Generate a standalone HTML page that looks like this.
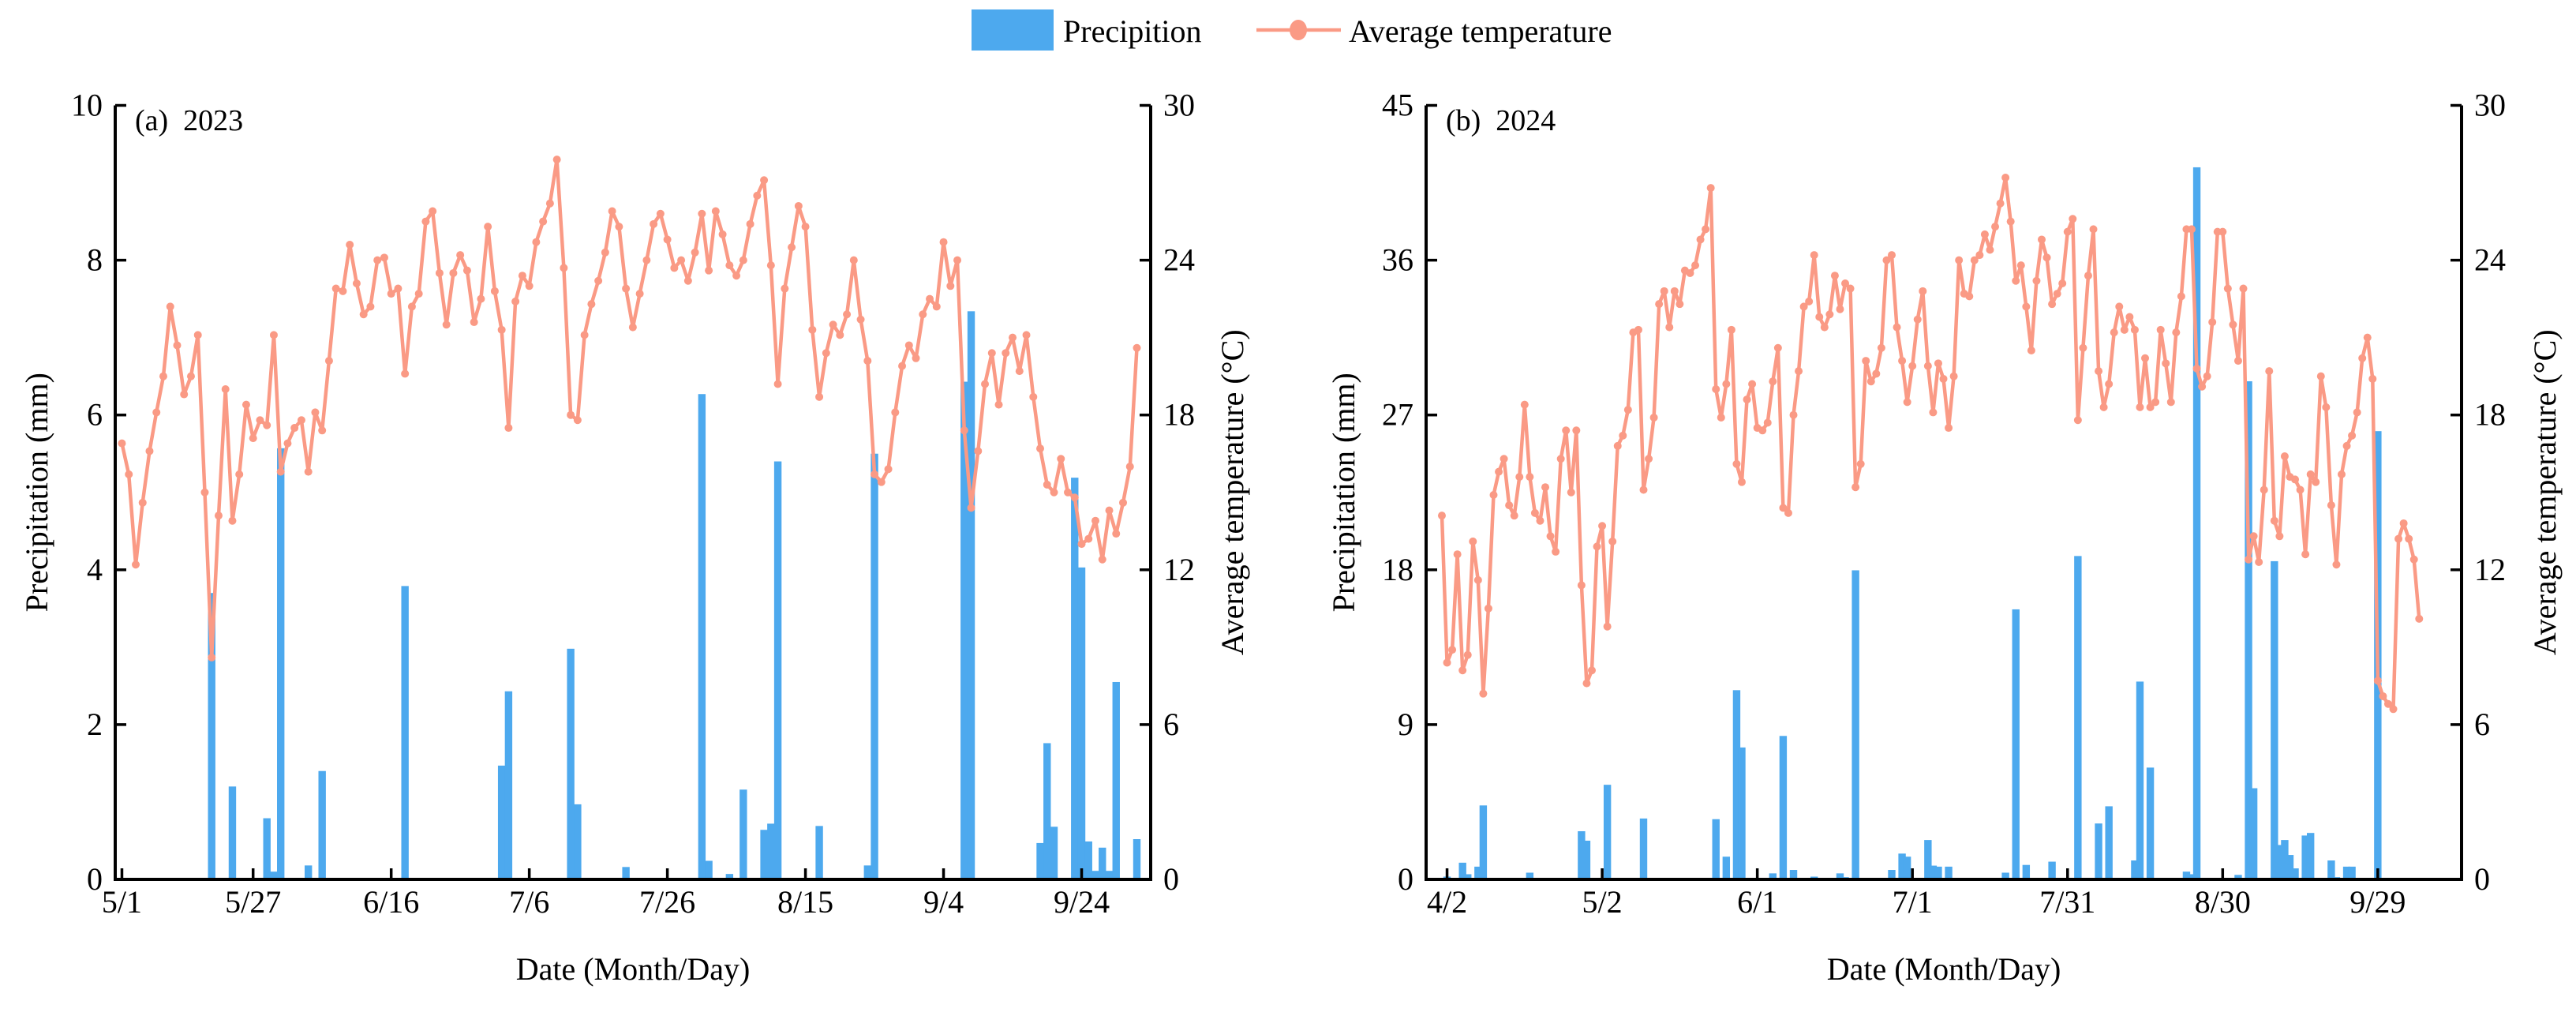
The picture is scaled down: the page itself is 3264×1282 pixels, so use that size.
<!DOCTYPE html>
<html><head><meta charset="utf-8"><style>
html,body{margin:0;padding:0;background:#fff;}
svg text{font-family:"Liberation Serif","DejaVu Serif",serif;}
</style></head><body>
<svg id="fig" width="3264" height="1277" viewBox="0 0 3264 1277" xmlns="http://www.w3.org/2000/svg" font-family="Liberation Serif, serif">
<g>
<rect x="1231" y="12" width="104" height="52" fill="#4DA9EE"/>
<text x="1347" y="53" font-size="40" font-family="Liberation Serif, serif">Precipition</text>
<line x1="1592" y1="38" x2="1699" y2="38" stroke="#FA9A85" stroke-width="4.5"/>
<ellipse cx="1645" cy="38" rx="11" ry="13" fill="#FA9A85"/>
<text x="1709" y="53" font-size="40" font-family="Liberation Serif, serif">Average temperature</text>
</g>
</svg>
<script>
// ---- 2023 data ----
const temps23=[16.9,15.7,12.2,14.6,16.6,18.1,19.5,22.2,20.7,18.8,
19.5,21.1,15.0,8.6,14.1,19.0,13.9,15.7,18.4,17.1,
17.8,17.6,21.1,15.8,16.9,17.5,17.8,15.8,18.1,17.4,
20.1,22.9,22.8,24.6,23.1,21.9,22.2,24.0,24.1,22.7,
22.9,19.6,22.2,22.7,25.5,25.9,23.5,21.5,23.5,24.2,
23.6,21.6,22.5,25.3,22.8,21.3,17.5,22.4,23.4,23.0,
24.7,25.5,26.2,27.9,23.7,18.0,17.8,21.1,22.3,23.2,
24.3,25.9,25.3,22.9,21.4,22.7,24.0,25.4,25.8,24.8,
23.7,24.0,23.2,24.3,25.8,23.6,25.9,25.0,23.8,23.4,
24.0,25.4,26.5,27.1,23.8,19.2,22.9,24.5,26.1,25.3,
21.3,18.7,20.4,21.5,21.1,21.9,24.0,21.7,20.1,15.7,
15.4,15.9,18.1,19.9,20.7,20.2,21.9,22.5,22.2,24.7,
23.0,24.0,17.4,14.4,16.6,19.2,20.4,18.4,20.4,21.0,
19.7,21.1,18.7,16.7,15.3,15.0,16.3,15.0,14.8,13.0,
13.2,13.9,12.4,14.3,13.4,14.6,16.0,20.6];
const precipDays23=[13,16,21,22,23,27,29,41,55,56,65,66,73,84,85,88,90,93,94,95,101,108,109,122,123,133,134,135,138,139,140,141,142,143,144,147];
const precipVals23=[3.7,1.2,0.79,0.1,5.57,0.18,1.4,3.79,1.47,2.43,2.98,0.97,0.16,6.27,0.24,0.07,1.16,0.64,0.72,5.4,0.69,0.18,5.5,6.43,7.34,0.47,1.76,0.68,5.19,4.03,0.49,0.11,0.41,0.11,2.55,0.52];
const tickDays23=[0,19,39,59,79,99,119,139];
const tickLabels23=["5/1","5/27","6/16","7/6","7/26","8/15","9/4","9/24"];
const leftTicks23=[0,2,4,6,8,10];
const rightTicks23=[0,6,12,18,24,30];
// ---- 2024 data ----
const temps24=[14.1,8.4,8.9,12.6,8.1,8.7,13.1,11.6,7.2,10.5,
14.9,15.8,16.3,14.5,14.1,15.6,18.4,15.6,14.2,13.9,
15.2,13.3,12.7,16.3,17.4,15.0,17.4,11.4,7.6,8.1,
12.9,13.7,9.8,13.1,16.8,17.2,18.2,21.2,21.3,15.1,
16.3,17.9,22.3,22.8,21.4,22.8,22.3,23.6,23.5,23.8,
24.8,25.2,26.8,19.0,17.9,19.2,21.3,16.1,15.4,18.6,
19.2,17.5,17.4,17.7,19.3,20.6,14.4,14.2,18.0,19.7,
22.2,22.4,24.2,21.8,21.4,21.9,23.4,22.1,23.1,22.9,
15.2,16.1,20.1,19.3,19.6,20.6,24.0,24.2,21.4,20.1,
18.5,19.9,21.7,22.8,19.9,18.1,20.0,19.4,17.5,19.5,
24.0,22.7,22.6,24.0,24.2,25.0,24.4,25.3,26.2,27.2,
25.5,23.2,23.8,22.2,20.5,23.2,24.8,24.1,22.3,22.7,
23.1,25.1,25.6,17.8,20.6,23.4,25.2,19.7,18.3,19.2,
21.2,22.2,21.3,21.8,21.3,18.3,20.2,18.3,18.5,21.3,
20.0,18.5,21.2,22.6,25.2,25.2,19.8,19.1,19.5,21.6,
25.1,25.1,22.9,21.5,20.1,22.9,12.4,13.3,12.3,15.1,
19.7,13.9,13.3,16.4,15.6,15.5,15.1,12.6,15.7,15.4,
19.5,18.3,14.5,12.2,15.7,16.8,17.2,18.1,20.2,21.0,
19.4,7.7,7.1,6.8,6.6,13.2,13.8,13.2,12.4,10.1];
const precipDays24=[1,4,5,7,8,17,27,28,32,39,53,55,57,58,64,66,68,72,77,78,80,87,89,90,94,95,96,98,109,111,113,118,123,127,129,134,135,137,144,145,146,154,156,157,161,162,163,164,165,167,168,172,173,175,176,181];
const precipVals24=[0.16,0.97,0.3,0.74,4.3,0.39,2.8,2.25,5.5,3.54,3.5,1.32,11.0,7.67,0.35,8.34,0.55,0.16,0.35,0.13,17.97,0.55,1.5,1.32,2.29,0.8,0.74,0.74,0.39,15.7,0.84,1.03,18.8,3.25,4.25,1.1,11.5,6.5,0.45,0.3,41.4,0.26,28.96,5.3,18.5,2.0,2.29,1.42,0.64,2.55,2.7,1.1,0.13,0.74,0.74,26.06];
const tickDays24=[1,31,61,91,121,151,181];
const tickLabels24=["4/2","5/2","6/1","7/1","7/31","8/30","9/29"];
const leftTicks24=[0,9,18,27,36,45];
const rightTicks24=[0,6,12,18,24,30];

const NS="http://www.w3.org/2000/svg";
const FONT="Liberation Serif, serif";
const svg=document.getElementById('fig');
function mk(tag,attrs,parent){const e=document.createElementNS(NS,tag);for(const k in attrs)e.setAttribute(k,attrs[k]);if(tag==='text')e.setAttribute('font-family',FONT);(parent||svg).appendChild(e);return e;}

function panel(o){
  const g=mk('g',{});
  
  
  const top=133.5,bot=1114,L=o.x0,R=o.x1;
  const xs=d=>L+(d-o.d0)/(o.d1-o.d0)*(R-L);
  const yl=v=>bot-v/o.lmax*(bot-top);
  const yr=v=>bot-v/o.rmax*(bot-top);
  o.pd.forEach((d,i)=>{
    const b=mk('rect',{x:xs(d)-4.7,y:yl(o.pv[i]),width:9.4,height:bot-yl(o.pv[i]),fill:'#4DA9EE'},g);
    
    
  });
  const pts=o.t.map((v,i)=>xs(i).toFixed(1)+','+yr(v).toFixed(1)).join(' ');
  const pl=mk('polyline',{points:pts,fill:'none',stroke:'#FA9A85','stroke-width':4.5,'stroke-linejoin':'round'},g);
  
  
  o.t.forEach((v,i)=>{
    const c=mk('circle',{cx:xs(i),cy:yr(v),r:5,fill:'#FA9A85'},g);
    
    
  });
  const ax=mk('path',{d:`M${L},${top} V${bot} H${R} V${top}`,fill:'none',stroke:'#000','stroke-width':4},g);
  
  
  o.lt.forEach(v=>{
    mk('line',{x1:L,x2:L+14,y1:yl(v),y2:yl(v),stroke:'#000','stroke-width':3.5},g);
    const t=mk('text',{x:L-16,y:yl(v)+13,'font-size':40,'text-anchor':'end'},g);
    t.textContent=v;
    
    
  });
  o.rt.forEach(v=>{
    mk('line',{x1:R-14,x2:R,y1:yr(v),y2:yr(v),stroke:'#000','stroke-width':3.5},g);
    const t=mk('text',{x:R+16,y:yr(v)+13,'font-size':40,'text-anchor':'start'},g);
    t.textContent=v;
    
    
  });
  o.td.forEach((d,i)=>{
    mk('line',{x1:xs(d),x2:xs(d),y1:bot-14,y2:bot,stroke:'#000','stroke-width':3.5},g);
    const t=mk('text',{x:xs(d),y:bot+42,'font-size':40,'text-anchor':'middle'},g);
    t.textContent=o.tl[i];
    
    
  });
  const cy=(top+bot)/2;
  const lt=mk('text',{x:o.ltx,y:cy,'font-size':40,'text-anchor':'middle',transform:`rotate(-90 ${o.ltx} ${cy})`},g);
  lt.textContent='Precipitation (mm)';
  
  
  const rt=mk('text',{x:o.rtx,y:cy,'font-size':40,'text-anchor':'middle',transform:`rotate(-90 ${o.rtx} ${cy})`},g);
  rt.textContent='Average temperature (°C)';
  
  
  const xt=mk('text',{x:(L+R)/2,y:1241,'font-size':40,'text-anchor':'middle'},g);
  xt.textContent='Date (Month/Day)';
  
  
  const pt=mk('text',{x:L+25,y:165,'font-size':38,'xml:space':'preserve'},g);
  pt.textContent=o.title;
  
  
}
panel({id:'2023',x0:146,x1:1458,d0:-0.97,d1:149,lmax:10,rmax:30,t:temps23,pd:precipDays23,pv:precipVals23,td:tickDays23,tl:tickLabels23,lt:leftTicks23,rt:rightTicks23,ltx:60,rtx:1575,title:'(a)\u00a0\u00a02023'});
panel({id:'2024',x0:1807,x1:3119,d0:-3.05,d1:197.2,lmax:45,rmax:30,t:temps24,pd:precipDays24,pv:precipVals24,td:tickDays24,tl:tickLabels24,lt:leftTicks24,rt:rightTicks24,ltx:1716,rtx:3238,title:'(b)\u00a0\u00a02024'});
</script>
</body></html>
